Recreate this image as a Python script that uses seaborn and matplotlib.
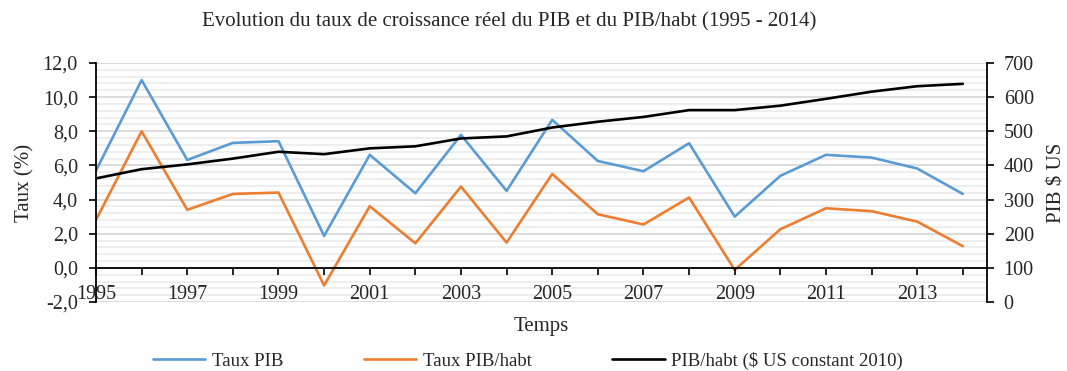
import matplotlib
matplotlib.use("Agg")
import matplotlib.pyplot as plt
from matplotlib.ticker import FuncFormatter, MultipleLocator
from matplotlib.lines import Line2D
import pandas as pd
import seaborn as sns

years = list(range(1995, 2015))
taux_pib = [5.70, 11.0, 6.32, 7.32, 7.42, 1.87, 6.62, 4.37, 7.79, 4.51,
            8.67, 6.26, 5.66, 7.30, 3.00, 5.39, 6.62, 6.46, 5.82, 4.33]
taux_pib_habt = [2.81, 8.00, 3.40, 4.33, 4.41, -1.03, 3.61, 1.44, 4.76, 1.48,
                 5.50, 3.14, 2.54, 4.12, -0.12, 2.26, 3.49, 3.32, 2.71, 1.27]
pib_habt = [362, 389, 403, 420, 440, 433, 450, 456, 479, 485,
            511, 528, 542, 562, 562, 575, 595, 616, 632, 639]

labels = ["Taux PIB", "Taux PIB/habt", "PIB/habt ($ US constant 2010)"]
colors = ["#5B9BD5", "#ED7D31", "#000000"]

df = pd.DataFrame({"annee": years, "taux_pib": taux_pib,
                   "taux_pib_habt": taux_pib_habt, "pib_habt": pib_habt})

sns.set_theme(style="white")
plt.rcParams["font.family"] = ["Liberation Serif", "DejaVu Serif"]

TICK_FS = 14.5
LABEL_FS = 15

fig = plt.figure(figsize=(10.67, 3.71), dpi=100)
ax = fig.add_axes([96 / 1067, 1 - 302 / 371, (987 - 96) / 1067, (302 - 63) / 371])

# light horizontal grid: major every 2, minor every 0.4
ax.set_ylim(-2, 12)
ax.yaxis.set_major_locator(MultipleLocator(2))
ax.yaxis.set_minor_locator(MultipleLocator(0.4))
ax.grid(True, which="major", axis="y", color="#d6d6d6", lw=1.2)
ax.grid(True, which="minor", axis="y", color="#ebebeb", lw=1.2)
ax.set_axisbelow(True)
# keep the year labels above the horizontal grid
ax.xaxis.set_zorder(3)

lw = 1.9
sns.lineplot(data=df, x="annee", y="taux_pib", ax=ax, color=colors[0], lw=lw, legend=False)
sns.lineplot(data=df, x="annee", y="taux_pib_habt", ax=ax, color=colors[1], lw=lw, legend=False)

ax.set_xlim(1995, 2014.53)
ax.set_xticks(years)
ax.set_xticklabels([str(y) if y % 2 == 1 else "" for y in years])
ax.yaxis.set_major_formatter(FuncFormatter(lambda v, p: f"{v:.1f}".replace(".", ",")))

for s in ["top", "right"]:
    ax.spines[s].set_visible(False)
ax.spines["bottom"].set_position(("data", 0))
ax.spines["left"].set_color("black")
ax.spines["bottom"].set_color("black")
ax.spines["left"].set_linewidth(1.3)
ax.spines["bottom"].set_linewidth(1.3)

ax.tick_params(axis="x", which="major", direction="out", length=5, width=1.2,
               color="black", labelsize=TICK_FS, pad=7, bottom=True)
ax.tick_params(axis="y", which="major", direction="out", length=5, width=1.2,
               color="black", labelsize=TICK_FS, pad=8, left=True)
ax.tick_params(axis="y", which="minor", length=0)

ax.set_xlabel("")
ax.set_ylabel("Taux (%)", fontsize=LABEL_FS)
ax.yaxis.set_label_coords(-0.069, 0.5)

ax2 = ax.twinx()
sns.lineplot(data=df, x="annee", y="pib_habt", ax=ax2, color=colors[2], lw=lw, legend=False)
ax2.set_ylim(0, 700)
ax2.yaxis.set_major_locator(MultipleLocator(100))
ax2.grid(False)
for s in ["top", "left", "bottom"]:
    ax2.spines[s].set_visible(False)
ax2.spines["right"].set_color("black")
ax2.spines["right"].set_linewidth(1.3)
ax2.tick_params(axis="y", direction="out", length=5, width=1.2, color="black",
                labelsize=TICK_FS, pad=7, right=True)
ax2.set_ylabel("PIB $ US", fontsize=LABEL_FS, rotation=90)
ax2.yaxis.set_label_coords(1.068, 0.5)
ax2.set_xlabel("")

fig.text(541 / 1067, 1 - 327 / 371, "Temps", ha="center", va="center", fontsize=LABEL_FS)
fig.text(509 / 1067, 1 - 22 / 371,
         "Evolution du taux de croissance réel du PIB et du PIB/habt (1995 - 2014)",
         ha="center", va="center", fontsize=15)

handles = [Line2D([0], [0], color=c, lw=lw) for c in colors]
fig.legend(handles, labels, loc="center", bbox_to_anchor=(528 / 1067, 1 - 361 / 371),
           ncol=3, frameon=False, fontsize=13.5, handlelength=2.8,
           columnspacing=4.3, handletextpad=0.35, borderaxespad=0)

fig.savefig("out.png", dpi=100)
